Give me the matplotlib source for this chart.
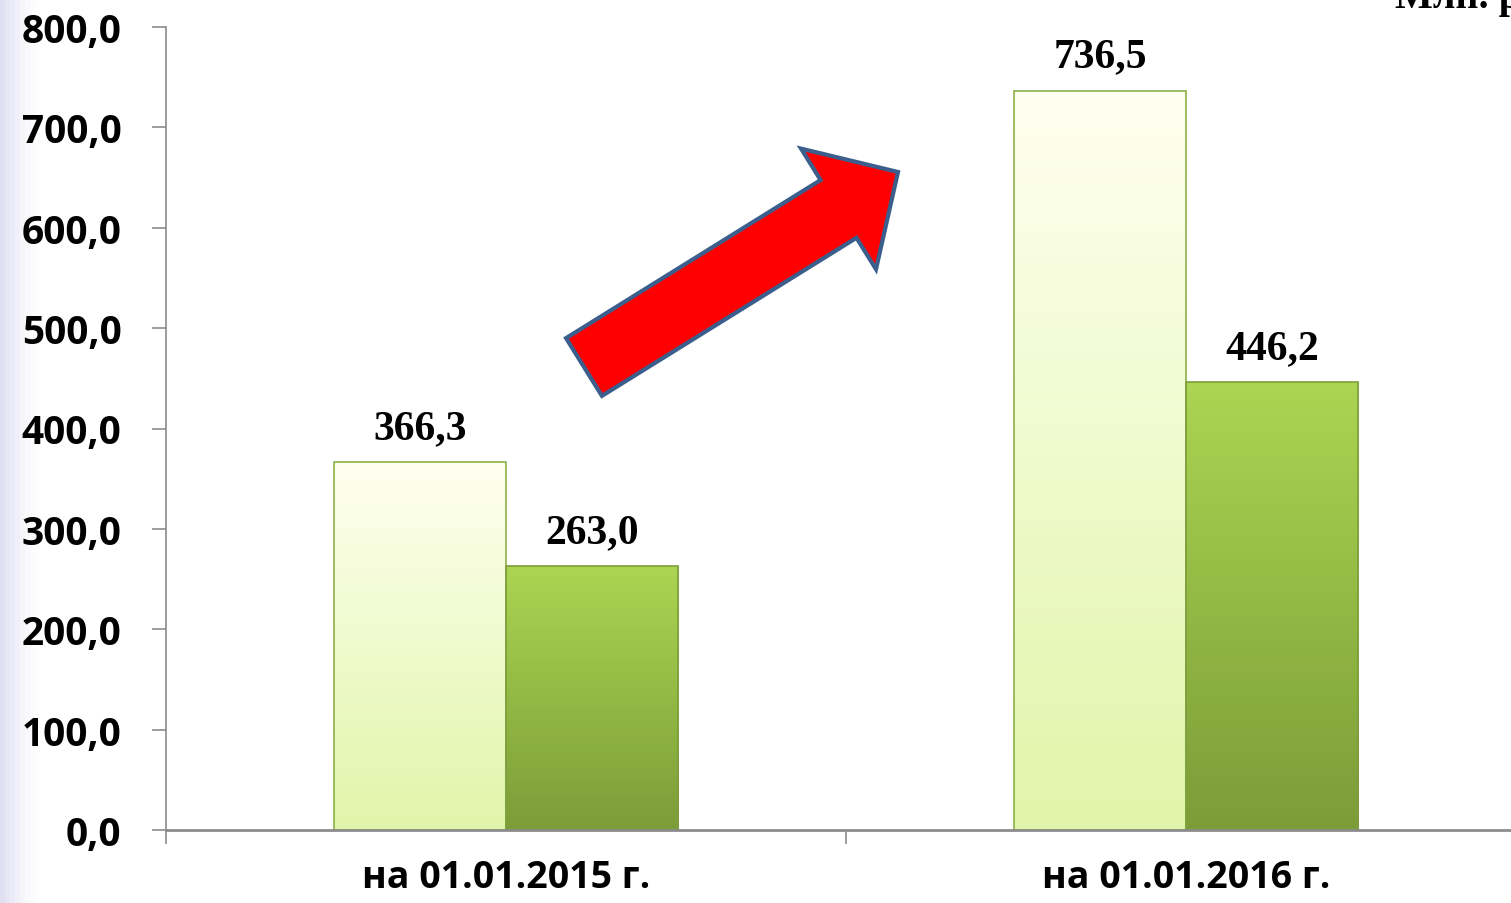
import numpy as np
import matplotlib.pyplot as plt
from matplotlib.colors import LinearSegmentedColormap
from matplotlib.patches import FancyArrow

categories = ['на 01.01.2015 г.', 'на 01.01.2016 г.']
series_a = [366.3, 736.5]
series_b = [263.0, 446.2]
yticks = [0, 100, 200, 300, 400, 500, 600, 700, 800]
unit_label = 'Млн. руб.'

fig = plt.figure(figsize=(15.11, 9.04), dpi=100)

# background: white with a soft lavender edge on the left
bg = fig.add_axes([0, 0, 1, 1])
bg.axis('off')
g = np.ones((50, 300, 3))
edge = np.clip(1 - np.linspace(0, 1, 300) / 0.025, 0, 1) ** 1.5
for i, c in enumerate([0.88, 0.88, 0.95]):
    g[:, :, i] = 1 - (1 - c) * edge
bg.imshow(g, extent=[0, 1, 0, 1], aspect='auto')
bg.set_xlim(0, 1)
bg.set_ylim(0, 1)

ax = fig.add_axes([166 / 1511, 73 / 904, 1360 / 1511, 803 / 904])
ax.patch.set_alpha(0)

x = np.arange(len(categories))
w = 0.253
cmap_a = LinearSegmentedColormap.from_list('a', ['#E0F5A9', '#FFFFF0'])
cmap_b = LinearSegmentedColormap.from_list('b', ['#7C9C38', '#ABD552'])

bars_a = ax.bar(x - w / 2, series_a, w, color='none', edgecolor='#8DB04A', linewidth=1.2, zorder=3)
bars_b = ax.bar(x + w / 2, series_b, w, color='none', edgecolor='#7E9E3C', linewidth=1.2, zorder=3)

grad = np.linspace(0, 1, 256).reshape(-1, 1)
for bars, cm in [(bars_a, cmap_a), (bars_b, cmap_b)]:
    for b in bars:
        x0, y0 = b.get_x(), b.get_y()
        im = ax.imshow(grad, extent=[x0, x0 + b.get_width(), y0, y0 + b.get_height()],
                       origin='lower', aspect='auto', cmap=cm, zorder=2)
        im.set_clip_path(b)

for bars, vals in [(bars_a, series_a), (bars_b, series_b)]:
    for b, v in zip(bars, vals):
        ax.annotate(f'{v:.1f}'.replace('.', ','), (b.get_x() + b.get_width() / 2, v),
                    xytext=(0, 11), textcoords='offset points', ha='center', va='bottom',
                    fontsize=30, fontweight='bold', family='Liberation Serif')

ax.set_xlim(-0.5, 1.5)
ax.set_ylim(0, 800)
ax.set_yticks(yticks)
ax.set_yticklabels([f'{t:.1f}'.replace('.', ',') for t in yticks],
                   fontsize=28, fontweight='bold', family='Open Sans')
ax.set_xticks(x)
ax.set_xticklabels(categories, fontsize=27, fontweight='bold', family='Open Sans')
ax.set_xticks([-0.5, 0.5, 1.5], minor=True)
ax.tick_params(axis='x', which='major', length=0, pad=20)
ax.tick_params(axis='x', which='minor', length=10, color='#8C8C8C', width=1.2)
ax.tick_params(axis='y', length=10, color='#8C8C8C', width=1.2, pad=22)

for s in ['top', 'right']:
    ax.spines[s].set_visible(False)
ax.spines['left'].set_color('#8C8C8C')
ax.spines['left'].set_linewidth(1.2)
ax.spines['bottom'].set_color('#8C8C8C')
ax.spines['bottom'].set_linewidth(2)
ax.spines['bottom'].set_zorder(4)

# growth arrow, in figure inches
arr = FancyArrow(5.84, 5.36, 3.14, 1.95, width=0.68, head_width=1.42, head_length=0.70,
                 length_includes_head=True, facecolor='#FF0000', edgecolor='#3B5E8C',
                 linewidth=3, transform=fig.dpi_scale_trans, zorder=5)
fig.add_artist(arr)

fig.text(1395 / 1511, 1 - 8 / 904, unit_label, fontsize=29, fontweight='bold',
         family='Liberation Serif', ha='left', va='baseline')

fig.savefig('out.png', dpi=100)
